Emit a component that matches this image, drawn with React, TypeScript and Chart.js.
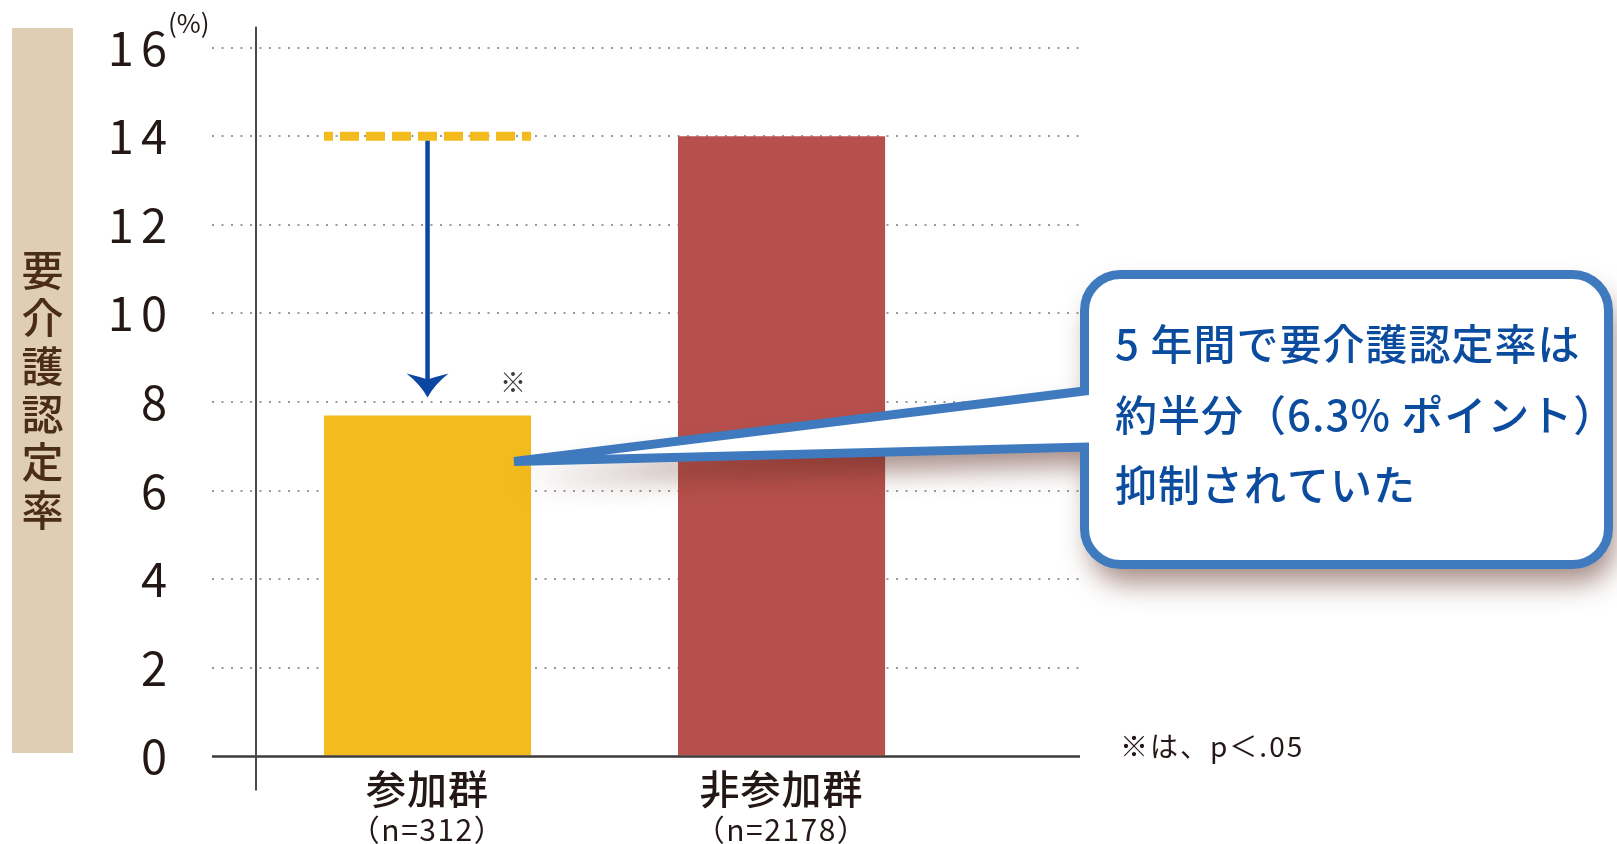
import React, { useEffect, useRef } from 'react';
import { Chart, registerables } from 'chart.js';

Chart.register(...registerables);

const groups = ['参加群', '非参加群'];
const groupSizes = ['（n=312）', '（n=2178）'];
const rates = [7.7, 14.0];
const yTickStep = 2;
const yMax = 16;
const barColors = ['#f4bb1e', '#b7504c'];
const yTitle = '要介護認定率';
const unitLabel = '(%)';
const calloutLines = ['5 年間で要介護認定率は', '約半分（6.3% ポイント）', '抑制されていた'];
const noteText = '※は、p＜.05';
const sigMark = '※';

const FONT = '"Noto Sans CJK JP", "Noto Sans", sans-serif';
const TICK_SPACING = 7;

const annotations = {
  id: 'annotations',
  beforeDraw(chart: any) {
    const ctx = chart.ctx;
    ctx.save();
    ctx.fillStyle = '#dfcdb4';
    ctx.fillRect(12, 28, 61, 725);
    ctx.fillStyle = '#4b2c17';
    ctx.font = `500 42px ${FONT}`;
    ctx.textAlign = 'center';
    ctx.textBaseline = 'middle';
    const chars = Array.from(yTitle);
    const cy = 390.5;
    chars.forEach((c, i) => ctx.fillText(c, 42.5, cy + (i - (chars.length - 1) / 2) * 48));
    ctx.restore();
    // wider tracking for the axis tick labels drawn next
    (ctx as any).letterSpacing = `${TICK_SPACING}px`;
  },
  beforeDatasetsDraw(chart: any) {
    (chart.ctx as any).letterSpacing = '0px';
  },
  afterDatasetsDraw(chart: any) {
    const ctx = chart.ctx;
    const x = chart.scales.x;
    const y = chart.scales.y;
    const area = chart.chartArea;
    ctx.save();
    // baseline
    const y0 = y.getPixelForValue(0);
    ctx.strokeStyle = '#3e3a39';
    ctx.lineWidth = 2.5;
    ctx.beginPath();
    ctx.moveTo(area.left, y0);
    ctx.lineTo(area.right, y0);
    ctx.stroke();
    // vertical axis line
    ctx.lineWidth = 2;
    ctx.strokeStyle = '#4a4a4a';
    const ax = area.left + 44;
    ctx.beginPath();
    ctx.moveTo(ax, area.top - 21);
    ctx.lineTo(ax, area.bottom + 34);
    ctx.stroke();
    // unit
    ctx.fillStyle = '#231815';
    ctx.font = `26px ${FONT}`;
    ctx.textAlign = 'left';
    ctx.textBaseline = 'middle';
    ctx.fillText(unitLabel, area.left - 44, area.top - 25);

    const meta = chart.getDatasetMeta(0);
    const b0 = meta.data[0] as any;
    const left0 = b0.x - b0.width / 2;
    const right0 = b0.x + b0.width / 2;
    const refY = y.getPixelForValue(rates[1]);
    // dashed reference line
    ctx.strokeStyle = barColors[0];
    ctx.lineWidth = 9;
    ctx.setLineDash([19, 7]);
    ctx.lineDashOffset = 10;
    ctx.beginPath();
    ctx.moveTo(left0, refY);
    ctx.lineTo(right0, refY);
    ctx.stroke();
    ctx.setLineDash([]);
    // arrow
    const tipY = b0.y - 18;
    const cx = b0.x;
    ctx.strokeStyle = '#0b46a0';
    ctx.lineWidth = 4.5;
    ctx.beginPath();
    ctx.moveTo(cx, refY + 4.5);
    ctx.lineTo(cx, tipY - 14);
    ctx.stroke();
    ctx.fillStyle = '#0b46a0';
    ctx.beginPath();
    ctx.moveTo(cx, tipY);
    ctx.quadraticCurveTo(cx - 7, tipY - 13, cx - 21, tipY - 24);
    ctx.quadraticCurveTo(cx - 9, tipY - 21, cx, tipY - 18);
    ctx.quadraticCurveTo(cx + 9, tipY - 21, cx + 21, tipY - 24);
    ctx.quadraticCurveTo(cx + 7, tipY - 13, cx, tipY);
    ctx.fill();
    // significance mark
    ctx.fillStyle = '#3e3a39';
    ctx.font = `26px ${FONT}`;
    ctx.textAlign = 'center';
    ctx.fillText(sigMark, right0 - 18, b0.y - 33);
    // category labels
    ctx.fillStyle = '#231815';
    groups.forEach((g, i) => {
      const px = x.getPixelForValue(i);
      (ctx as any).letterSpacing = '1px';
      ctx.font = `500 40px ${FONT}`;
      ctx.fillText(g, px, area.bottom + 32);
      (ctx as any).letterSpacing = '1.5px';
      ctx.font = `30px ${FONT}`;
      ctx.fillText(groupSizes[i], px, area.bottom + 73);
    });
    // note
    ctx.textAlign = 'left';
    (ctx as any).letterSpacing = '2px';
    ctx.font = `28px ${FONT}`;
    ctx.fillText(noteText, area.right + 40, area.bottom - 10);
    (ctx as any).letterSpacing = '0px';
    ctx.restore();
  },
  afterDraw(chart: any) {
    const ctx = chart.ctx;
    const meta = chart.getDatasetMeta(0);
    const b0 = meta.data[0] as any;
    const tipX = b0.x + b0.width / 2 - 17;
    const tipY = b0.y + 46;
    const L = 1084.5, R = 1608.5, T = 274.5, B = 564.5, r = 36;
    const t1 = 391, t2 = 447;
    ctx.save();
    ctx.beginPath();
    ctx.moveTo(L + r, T);
    ctx.lineTo(R - r, T);
    ctx.arcTo(R, T, R, T + r, r);
    ctx.lineTo(R, B - r);
    ctx.arcTo(R, B, R - r, B, r);
    ctx.lineTo(L + r, B);
    ctx.arcTo(L, B, L, B - r, r);
    ctx.lineTo(L, t2);
    ctx.lineTo(tipX, tipY);
    ctx.lineTo(L, t1);
    ctx.lineTo(L, T + r);
    ctx.arcTo(L, T, L + r, T, r);
    ctx.closePath();
    ctx.shadowColor = 'rgba(90,40,30,0.55)';
    ctx.shadowBlur = 28;
    ctx.shadowOffsetX = 6;
    ctx.shadowOffsetY = 18;
    ctx.fillStyle = '#ffffff';
    ctx.fill();
    ctx.shadowColor = 'rgba(0,0,0,0)';
    ctx.shadowBlur = 0;
    ctx.shadowOffsetX = 0;
    ctx.shadowOffsetY = 0;
    ctx.strokeStyle = '#3f7abf';
    ctx.lineWidth = 9;
    ctx.lineJoin = 'miter';
    ctx.stroke();
    ctx.fillStyle = '#0b4c9f';
    ctx.font = `500 42px ${FONT}`;
    ctx.textAlign = 'left';
    ctx.textBaseline = 'middle';
    (ctx as any).letterSpacing = '1px';
    calloutLines.forEach((line, i) => ctx.fillText(line, 1115, 344 + i * 70.6));
    ctx.restore();
  },
};

export default function App() {
  const ref = useRef<HTMLCanvasElement | null>(null);
  useEffect(() => {
    if (!ref.current) return;
    const chart = new Chart(ref.current, {
      type: 'bar',
      data: {
        datasets: [
          {
            data: rates.map((v, i) => ({ x: i, y: v })) as any,
            backgroundColor: barColors,
            borderWidth: 0,
            barPercentage: 0.585,
            categoryPercentage: 1,
          },
        ],
      },
      options: {
        responsive: false,
        animation: false,
        layout: { padding: { left: 80, right: 537, top: 47.7, bottom: 87.5 } },
        plugins: { legend: { display: false }, tooltip: { enabled: false } },
        scales: {
          x: {
            type: 'linear',
            min: -0.6088,
            max: 1.843,
            offset: false,
            display: true,
            ticks: { display: false },
            grid: { display: false, drawTicks: false },
            border: { display: false },
            afterBuildTicks: (s: any) => {
              s.ticks = groups.map((_, i) => ({ value: i }));
            },
            afterFit: (s: any) => {
              s.height = 0;
              s.paddingLeft = 0;
              s.paddingRight = 0;
              s.paddingTop = 0;
              s.paddingBottom = 0;
            },
          },
          y: {
            min: 0,
            max: yMax,
            ticks: {
              stepSize: yTickStep,
              padding: 45 - TICK_SPACING,
              color: '#231815',
              font: { family: FONT, size: 47 },
            },
            grid: {
              color: (c: any) => (c.tick && c.tick.value === 0 ? 'rgba(0,0,0,0)' : '#9a9a9a'),
              lineWidth: 2,
              drawTicks: false,
            },
            border: { display: false, dash: [2, 7.5] },
            afterFit: (s: any) => {
              s.width = 132;
              s.paddingTop = 0;
              s.paddingBottom = 0;
              s.paddingLeft = 0;
              s.paddingRight = 0;
            },
          },
        },
      },
      plugins: [annotations],
    } as any);
    return () => chart.destroy();
  }, []);
  return (
    <div style={{ position: 'fixed', left: 0, top: 0, width: 1617, height: 844, background: '#fff' }}>
      <canvas ref={ref} width={1617} height={844} />
    </div>
  );
}
